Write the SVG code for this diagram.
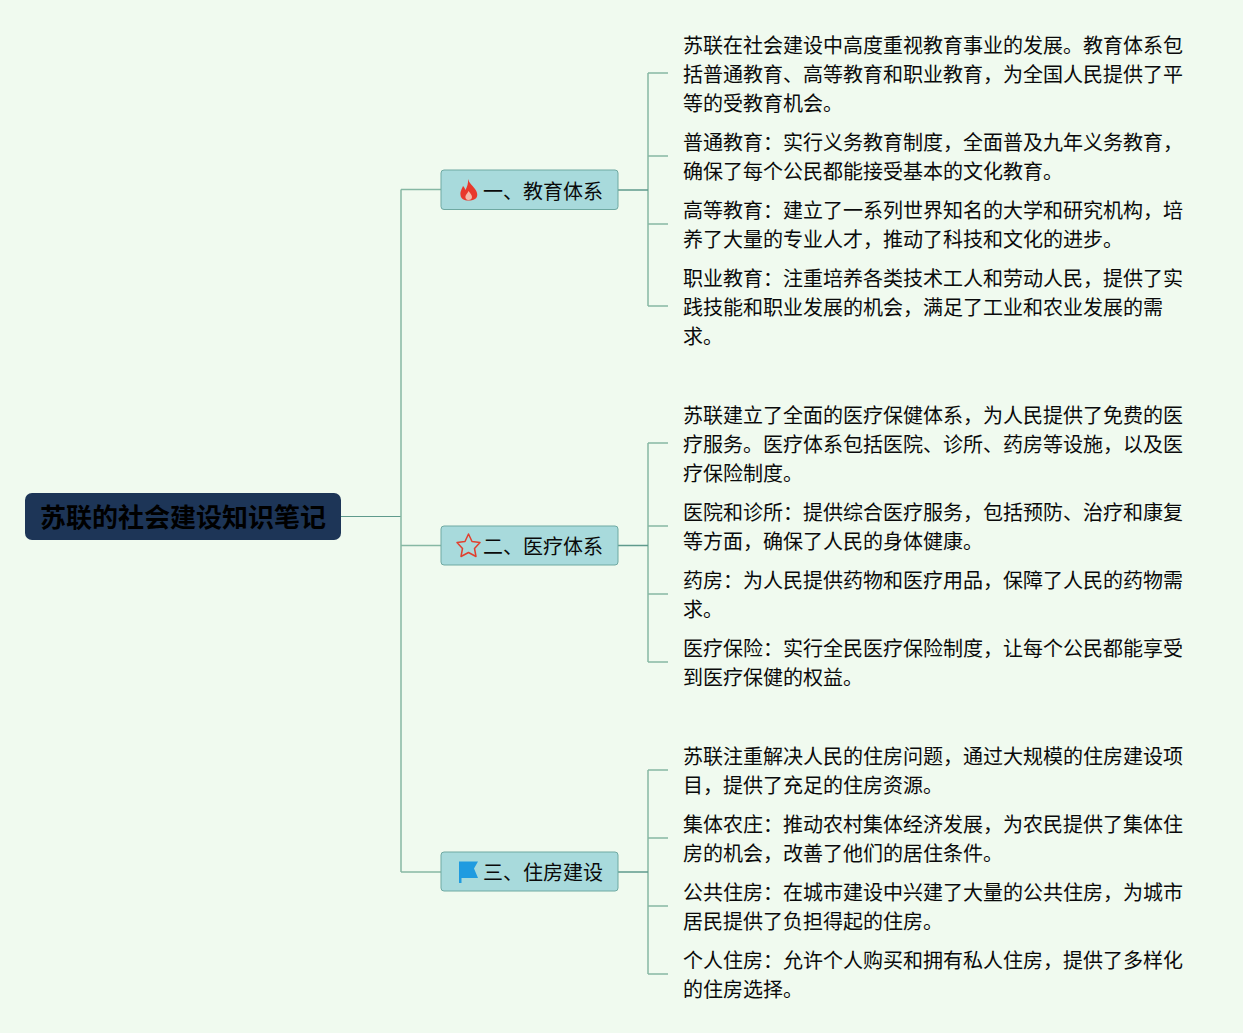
<svg xmlns="http://www.w3.org/2000/svg" width="1243" height="1033" viewBox="0 0 1243 1033">
<style>
text{font-family:"Noto Sans CJK SC","Noto Sans",sans-serif;fill:#0a0a0a}
.t{font-size:20px}
.b{font-size:20px}
.c{fill:none;stroke:#86b8a4;stroke-width:1.5}
.d{fill:none;stroke:#5f9a8c;stroke-width:1.5}
.n{fill:#a8dadc;stroke:#6fa9a2;stroke-width:1}
</style>
<rect width="1243" height="1033" fill="#f0faef"/>
<g id="connectors">
<path class="d" style="stroke-width:1" d="M341 516.500H401"/>
<path class="c" d="M401 189.500V872M401 189.500H441M401 545.500H441M401 872H441"/>
<path class="c" d="M648 73V306M648 73H668M648 156H668M648 224H668M648 306H668"/>
<path class="d" d="M618 190H648"/>
<path class="c" d="M648 443V662M648 443H668M648 526H668M648 594H668M648 662H668"/>
<path class="d" d="M618 545.500H648"/>
<path class="c" d="M648 770V974M648 770H668M648 838H668M648 906H668M648 974H668"/>
<path class="d" d="M618 872H648"/>
</g>
<g id="root">
<rect x="25" y="493" width="316" height="47" rx="7" fill="#1d3557"/>
<text x="183" y="527" text-anchor="middle" font-size="26" font-weight="700" style="fill:#000">苏联的社会建设知识笔记</text>
</g>
<g id="node-1">
<rect class="n" x="441" y="170" width="177" height="39.500" rx="3"/>
<path d="M468 179C469 183 472 185 475 189C478 193 478 197 475 199C473 200.500 471 200.500 468.500 200.500C464 200.500 461 199 460.500 195C460 191 462 189 463 186C464 187 465 188.500 465.500 190C467 187 468.500 183 468 179Z" fill="#e8392c"/>
<path d="M468.500 200C466 200 465 198 465.500 196C466 194 468 193 468.500 191C470 193 472 195 472 197C472 199 470.500 200 468.500 200Z" fill="#f4b9a8"/>
<text class="t" x="483" y="199">一、教育体系</text>
</g>
<g id="node-2">
<rect class="n" x="441" y="526" width="177" height="39" rx="3"/>
<path d="M468.500 534L472 541.500L480 542.500L474.500 548.500L476 556.500L468.500 552.500L461 556.500L462.500 548.500L457 542.500L465 541.500Z" fill="none" stroke="#e0402f" stroke-width="1.500" stroke-linejoin="round"/>
<text class="t" x="483" y="554">二、医疗体系</text>
</g>
<g id="node-3">
<rect class="n" x="441" y="852" width="177" height="39" rx="3"/>
<path d="M459 861.500H478L474 868.500L478 878H461.500V883H459Z" fill="#1f9be0"/>
<text class="t" x="483" y="880">三、住房建设</text>
</g>
<g id="leaf-1-1"><text class="b" x="683" y="53">苏联在社会建设中高度重视教育事业的发展。教育体系包</text><text class="b" x="683" y="82">括普通教育、高等教育和职业教育，为全国人民提供了平</text><text class="b" x="683" y="111">等的受教育机会。</text></g>
<g id="leaf-1-2"><text class="b" x="683" y="150">普通教育：实行义务教育制度，全面普及九年义务教育，</text><text class="b" x="683" y="179">确保了每个公民都能接受基本的文化教育。</text></g>
<g id="leaf-1-3"><text class="b" x="683" y="218">高等教育：建立了一系列世界知名的大学和研究机构，培</text><text class="b" x="683" y="247">养了大量的专业人才，推动了科技和文化的进步。</text></g>
<g id="leaf-1-4"><text class="b" x="683" y="286">职业教育：注重培养各类技术工人和劳动人民，提供了实</text><text class="b" x="683" y="315">践技能和职业发展的机会，满足了工业和农业发展的需</text><text class="b" x="683" y="344">求。</text></g>
<g id="leaf-2-1"><text class="b" x="683" y="423">苏联建立了全面的医疗保健体系，为人民提供了免费的医</text><text class="b" x="683" y="452">疗服务。医疗体系包括医院、诊所、药房等设施，以及医</text><text class="b" x="683" y="481">疗保险制度。</text></g>
<g id="leaf-2-2"><text class="b" x="683" y="520">医院和诊所：提供综合医疗服务，包括预防、治疗和康复</text><text class="b" x="683" y="549">等方面，确保了人民的身体健康。</text></g>
<g id="leaf-2-3"><text class="b" x="683" y="588">药房：为人民提供药物和医疗用品，保障了人民的药物需</text><text class="b" x="683" y="617">求。</text></g>
<g id="leaf-2-4"><text class="b" x="683" y="656">医疗保险：实行全民医疗保险制度，让每个公民都能享受</text><text class="b" x="683" y="685">到医疗保健的权益。</text></g>
<g id="leaf-3-1"><text class="b" x="683" y="764">苏联注重解决人民的住房问题，通过大规模的住房建设项</text><text class="b" x="683" y="793">目，提供了充足的住房资源。</text></g>
<g id="leaf-3-2"><text class="b" x="683" y="832">集体农庄：推动农村集体经济发展，为农民提供了集体住</text><text class="b" x="683" y="861">房的机会，改善了他们的居住条件。</text></g>
<g id="leaf-3-3"><text class="b" x="683" y="900">公共住房：在城市建设中兴建了大量的公共住房，为城市</text><text class="b" x="683" y="929">居民提供了负担得起的住房。</text></g>
<g id="leaf-3-4"><text class="b" x="683" y="968">个人住房：允许个人购买和拥有私人住房，提供了多样化</text><text class="b" x="683" y="997">的住房选择。</text></g>
</svg>
